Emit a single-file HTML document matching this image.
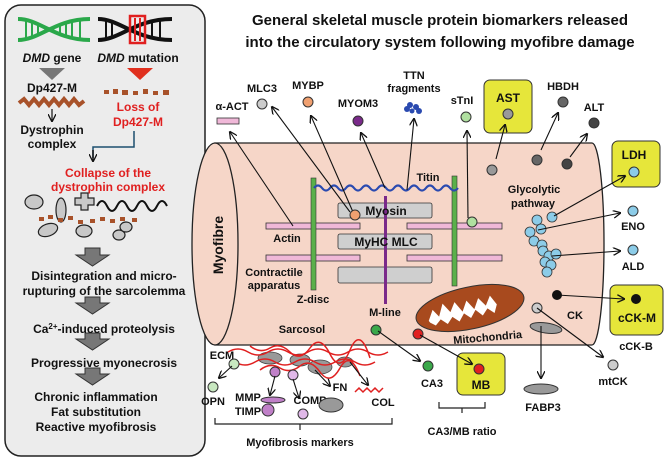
<!DOCTYPE html>
<html><head><meta charset="utf-8"><style>
html,body{margin:0;padding:0;background:#fff}
svg{display:block}
text{font-family:"Liberation Sans",Arial,sans-serif;font-weight:bold;fill:#111;text-anchor:middle}
</style></head><body>
<svg width="668" height="461" viewBox="0 0 668 461" xmlns="http://www.w3.org/2000/svg">
<defs>
<marker id="a" markerWidth="8" markerHeight="8" refX="7" refY="4" orient="auto" markerUnits="userSpaceOnUse">
<path d="M0,0 L8,4 L0,8" fill="none" stroke="#111" stroke-width="1.3"/></marker>
</defs>

<!-- LEFT PANEL -->
<rect x="5" y="5" width="200" height="451" rx="16" fill="#ececec" stroke="#222" stroke-width="1.5"/>
<!-- green DNA -->
<g stroke="#2aa84a" stroke-width="4" fill="none">
<path d="M18,19 C40,19 55,40 90,40"/><path d="M18,40 C40,40 55,19 90,19"/>
</g>
<g stroke="#2aa84a" stroke-width="2"><path d="M26,21v17M32,22v15M38,24v11M60,24v11M66,22v15M72,21v17M80,20v19"/></g>
<!-- black DNA -->
<g stroke="#111" stroke-width="4" fill="none">
<path d="M98,19 C120,19 135,40 172,40"/><path d="M98,40 C120,40 135,19 172,19"/>
</g>
<g stroke="#111" stroke-width="2"><path d="M106,21v17M112,22v15M152,22v15M160,21v17"/></g>
<rect x="130" y="16" width="15" height="27" fill="none" stroke="#e02020" stroke-width="2.5"/>
<g stroke="#e02020" stroke-width="2"><path d="M135,18v23M140,18v23"/></g>
<text x="52" y="62" font-size="12"><tspan font-style="italic">DMD</tspan> gene</text>
<text x="138" y="62" font-size="12"><tspan font-style="italic">DMD</tspan> mutation</text>
<path d="M39,68 L65,68 L52,80Z" fill="#777"/>
<path d="M127,68 L153,68 L140,80Z" fill="#e0301e"/>
<text x="52" y="92" font-size="12">Dp427-M</text>
<path d="M19,103 l5,-4 5,6 5,-6 5,6 5,-6 5,6 5,-6 5,6 5,-6 5,6 5,-6 5,6 5,-4" fill="none" stroke="#a8522a" stroke-width="4"/>
<line x1="52" y1="109" x2="52" y2="121" stroke="#111" stroke-width="1.2" marker-end="url(#a)"/>
<text x="52" y="134" font-size="12">Dystrophin</text>
<text x="52" y="148" font-size="12">complex</text>
<g fill="#a8522a"><rect x="104" y="90" width="5" height="4"/><rect x="113" y="89" width="5" height="5"/><rect x="122" y="90" width="6" height="5"/><rect x="133" y="91" width="5" height="4"/><rect x="143" y="89" width="5" height="5"/><rect x="153" y="91" width="5" height="4"/><rect x="163" y="90" width="6" height="5"/></g>
<text x="138" y="111" font-size="12" style="fill:#e02020">Loss of</text>
<text x="138" y="126" font-size="12" style="fill:#e02020">Dp427-M</text>
<path d="M134,131 V147 H93 V158" fill="none" stroke="#1d4f6e" stroke-width="1.5"/>
<path d="M93,150 V161" stroke="#111" stroke-width="1.5" marker-end="url(#a)"/>
<text x="108" y="177" font-size="12" style="fill:#e02020">Collapse of the</text>
<text x="108" y="191" font-size="12" style="fill:#e02020">dystrophin complex</text>
<g fill="#c8c8c8" stroke="#222" stroke-width="1.2">
<ellipse cx="34" cy="202" rx="9" ry="7"/>
<ellipse cx="61" cy="210" rx="5" ry="12"/>
<path d="M75,198 h6 v-5 h7 v5 h6 v7 h-6 v5 h-7 v-5 h-6z"/>
<ellipse cx="48" cy="230" rx="10" ry="6" transform="rotate(-20 48 230)"/>
<ellipse cx="84" cy="231" rx="8" ry="6"/>
<ellipse cx="119" cy="235" rx="6" ry="5"/>
<ellipse cx="126" cy="227" rx="6" ry="5"/>
</g>
<g fill="#a8522a"><rect x="39" y="217" width="5" height="4"/><rect x="48" y="215" width="5" height="4"/><rect x="58" y="218" width="5" height="4"/><rect x="68" y="216" width="5" height="4"/><rect x="78" y="220" width="5" height="4"/><rect x="90" y="219" width="5" height="4"/><rect x="100" y="217" width="5" height="4"/><rect x="110" y="219" width="5" height="4"/><rect x="120" y="217" width="5" height="4"/><rect x="132" y="218" width="5" height="4"/></g>
<path d="M97,206 q5,-10 10,0 t10,0 t10,0 t10,0 t10,0 t10,0 t10,0" fill="none" stroke="#111" stroke-width="2"/>
<g fill="#777" stroke="#333" stroke-width="1">
<path d="M85,248 h15 v7 h9 l-16.5,11 -16.5,-11 h9z"/>
<path d="M85,297 h15 v6 h9 l-16.5,11 -16.5,-11 h9z"/>
<path d="M85,333 h15 v6 h9 l-16.5,11 -16.5,-11 h9z"/>
<path d="M85,368 h15 v6 h9 l-16.5,11 -16.5,-11 h9z"/>
</g>
<text x="104" y="280" font-size="12">Disintegration and micro-</text>
<text x="104" y="295" font-size="12">rupturing of the sarcolemma</text>
<text x="104" y="333" font-size="12">Ca<tspan font-size="8" dy="-4">2+</tspan><tspan dy="4">-induced proteolysis</tspan></text>
<text x="104" y="367" font-size="12">Progressive myonecrosis</text>
<text x="96" y="401" font-size="12">Chronic inflammation</text>
<text x="96" y="416" font-size="12">Fat substitution</text>
<text x="96" y="431" font-size="12">Reactive myofibrosis</text>

<!-- TITLE -->
<text x="440" y="25" font-size="15">General skeletal muscle protein biomarkers released</text>
<text x="440" y="47" font-size="15">into the circulatory system following myofibre damage</text>

<!-- CYLINDER -->
<path d="M215,143 H592 A12,101 0 0 1 592,345 H215Z" fill="#f6d6c8" stroke="#222" stroke-width="1.3"/>
<ellipse cx="215" cy="244" rx="23" ry="101" fill="#f6d6c8" stroke="#222" stroke-width="1.3"/>
<text x="0" y="0" font-size="14" transform="translate(223,245) rotate(-90)">Myofibre</text>

<!-- actin -->
<g fill="#f0b8d8" stroke="#333" stroke-width="0.8">
<rect x="266" y="223" width="94" height="6"/><rect x="266" y="255" width="94" height="6"/>
<rect x="407" y="223" width="95" height="6"/><rect x="407" y="255" width="95" height="6"/>
</g>
<!-- myosin -->
<g fill="#cfcfcf" stroke="#333" stroke-width="0.8">
<rect x="338" y="203" width="94" height="15" rx="2"/>
<rect x="338" y="234" width="94" height="15" rx="2"/>
<rect x="338" y="267" width="94" height="16" rx="2"/>
</g>
<!-- z disc, m line -->
<rect x="311" y="178" width="5" height="112" fill="#5ab04a" stroke="#333" stroke-width="0.6"/>
<rect x="452" y="176" width="5" height="110" fill="#5ab04a" stroke="#333" stroke-width="0.6"/>
<rect x="384" y="196" width="3" height="108" fill="#7a2a8a"/>
<path d="M314,188 q4,-5 8,0 t8,0 t8,0 t8,0 t8,0 t8,0 t8,0 t8,0 t8,0 t8,0 t8,0 t8,0 t8,0 t8,0 t8,0 t8,0 t8,0 t8,0" fill="none" stroke="#2a4ab0" stroke-width="2.2"/>
<text x="386" y="215" font-size="12">Myosin</text>
<text x="386" y="246" font-size="12">MyHC MLC</text>
<text x="428" y="181" font-size="11">Titin</text>
<text x="287" y="242" font-size="11">Actin</text>
<text x="274" y="276" font-size="11">Contractile</text>
<text x="274" y="289" font-size="11">apparatus</text>
<text x="313" y="303" font-size="11">Z-disc</text>
<text x="385" y="316" font-size="11">M-line</text>
<text x="302" y="333" font-size="11">Sarcosol</text>

<!-- top markers -->
<text x="232" y="110" font-size="11">α-ACT</text>
<rect x="217" y="118" width="22" height="6" fill="#f0b8d8" stroke="#333" stroke-width="0.8"/>
<text x="262" y="92" font-size="11">MLC3</text>
<circle cx="262" cy="104" r="5" fill="#ccc" stroke="#333"/>
<text x="308" y="89" font-size="11">MYBP</text>
<circle cx="308" cy="102" r="5" fill="#f0a070" stroke="#333"/>
<text x="358" y="107" font-size="11">MYOM3</text>
<circle cx="358" cy="121" r="5" fill="#7a2a8a" stroke="#333"/>
<text x="414" y="79" font-size="11">TTN</text>
<text x="414" y="92" font-size="11">fragments</text>
<g fill="#2a4ab0"><circle cx="407" cy="109" r="3"/><circle cx="410" cy="105" r="3"/><circle cx="416" cy="107" r="3"/><circle cx="419" cy="111" r="3"/><circle cx="412" cy="111" r="2.5"/></g>
<text x="462" y="104" font-size="11">sTnI</text>
<circle cx="466" cy="117" r="5" fill="#b0e0a0" stroke="#333"/>
<rect x="484" y="80" width="48" height="53" rx="6" fill="#e6e63a" stroke="#333"/>
<text x="508" y="102" font-size="12">AST</text>
<circle cx="508" cy="114" r="5" fill="#999" stroke="#333"/>
<text x="563" y="90" font-size="11">HBDH</text>
<circle cx="563" cy="102" r="5" fill="#666" stroke="#333"/>
<text x="594" y="111" font-size="11">ALT</text>
<circle cx="594" cy="123" r="5" fill="#444" stroke="#333"/>
<circle cx="492" cy="170" r="5" fill="#999" stroke="#333"/>
<circle cx="537" cy="160" r="5" fill="#666" stroke="#333"/>
<circle cx="567" cy="164" r="5" fill="#444" stroke="#333"/>

<!-- right side -->
<rect x="612" y="141" width="48" height="46" rx="6" fill="#e6e63a" stroke="#333"/>
<text x="634" y="159" font-size="12">LDH</text>
<circle cx="634" cy="172" r="5" fill="#8ccce8" stroke="#333"/>
<text x="534" y="193" font-size="11">Glycolytic</text>
<text x="533" y="207" font-size="11">pathway</text>
<g fill="#8ccce8" stroke="#333" stroke-width="0.8">
<circle cx="552" cy="217" r="5"/><circle cx="537" cy="220" r="5"/><circle cx="541" cy="229" r="5"/><circle cx="530" cy="232" r="5"/><circle cx="534" cy="241" r="5"/><circle cx="542" cy="245" r="5"/><circle cx="543" cy="251" r="5"/><circle cx="549" cy="256" r="5"/><circle cx="545" cy="262" r="5"/><circle cx="551" cy="265" r="5"/><circle cx="547" cy="272" r="5"/><circle cx="556" cy="254" r="5"/>
</g>
<circle cx="633" cy="211" r="5" fill="#8ccce8" stroke="#333"/>
<text x="633" y="230" font-size="11">ENO</text>
<circle cx="633" cy="250" r="5" fill="#8ccce8" stroke="#333"/>
<text x="633" y="270" font-size="11">ALD</text>
<circle cx="557" cy="295" r="5" fill="#111"/>
<text x="575" y="319" font-size="11">CK</text>
<rect x="610" y="285" width="53" height="50" rx="6" fill="#e6e63a" stroke="#333"/>
<circle cx="636" cy="299" r="5" fill="#111"/>
<text x="637" y="322" font-size="12">cCK-M</text>
<text x="636" y="350" font-size="11">cCK-B</text>

<!-- mitochondria -->
<g transform="rotate(-12 470 308)">
<ellipse cx="470" cy="308" rx="55" ry="21" fill="#a84a1e" stroke="#333"/>
<path d="M427,312 l6,-10 5,8 6,-12 6,10 6,-9 6,11 6,-10 6,10 6,-10 6,9 6,-9 5,10 -4,8 -6,-6 -6,6 -6,-7 -6,7 -6,-6 -6,7 -6,-6 -6,6 -6,-6 -6,5 -5,-4z" fill="#fff"/>
</g>
<text x="488" y="341" font-size="11" transform="rotate(-5 488 341)">Mitochondria</text>
<circle cx="537" cy="308" r="5" fill="#ccc" stroke="#333"/>
<ellipse cx="546" cy="328" rx="16" ry="5" fill="#999" stroke="#333" transform="rotate(8 546 328)"/>
<ellipse cx="541" cy="389" rx="17" ry="5" fill="#999" stroke="#333"/>
<text x="543" y="411" font-size="11">FABP3</text>
<circle cx="613" cy="365" r="5" fill="#ccc" stroke="#333"/>
<text x="613" y="385" font-size="11">mtCK</text>

<!-- CA3 / MB -->
<circle cx="376" cy="330" r="5" fill="#3aa84a" stroke="#333"/>
<circle cx="418" cy="334" r="5" fill="#e02020" stroke="#333"/>
<circle cx="428" cy="366" r="5" fill="#3aa84a" stroke="#333"/>
<text x="432" y="387" font-size="11">CA3</text>
<rect x="457" y="353" width="48" height="42" rx="6" fill="#e6e63a" stroke="#333"/>
<circle cx="479" cy="369" r="5" fill="#e02020" stroke="#333"/>
<text x="481" y="389" font-size="12">MB</text>
<path d="M439,402 v6 h46 v-6 M462,408 v5" fill="none" stroke="#222" stroke-width="1.2"/>
<text x="462" y="435" font-size="11">CA3/MB ratio</text>

<!-- ECM -->
<text x="222" y="359" font-size="11">ECM</text>
<g fill="#999" stroke="#444" stroke-width="0.8">
<ellipse cx="270" cy="358" rx="12" ry="6"/><ellipse cx="300" cy="360" rx="10" ry="6"/><ellipse cx="320" cy="367" rx="12" ry="7"/><ellipse cx="345" cy="362" rx="8" ry="5"/>
</g>
<g fill="none" stroke="#e02020" stroke-width="1.5">
<path d="M228,352 q10,-6 20,0 t20,0 t20,0 t20,0 t20,0 t20,0 t20,0 t20,0"/>
<path d="M235,362 q10,6 20,0 t20,0 t20,0 t20,0 t20,0 t20,0 t20,0"/>
<path d="M250,346 q10,8 20,2 t20,4 t20,-4 t20,6 t20,-4 t20,8"/>
<path d="M260,370 q10,-8 20,-2 t20,-2 t20,6 t20,-4 t20,8"/>
</g>
<circle cx="234" cy="364" r="5" fill="#c8e8c0" stroke="#333"/>
<circle cx="275" cy="372" r="5" fill="#c080c8" stroke="#333"/>
<circle cx="293" cy="375" r="5" fill="#e0b8e8" stroke="#333"/>
<circle cx="213" cy="387" r="5" fill="#c8e8c0" stroke="#333"/>
<text x="213" y="405" font-size="11">OPN</text>
<text x="248" y="401" font-size="11">MMP</text>
<text x="248" y="415" font-size="11">TIMP</text>
<ellipse cx="273" cy="400" rx="12" ry="3" fill="#c080c8" stroke="#333"/>
<circle cx="268" cy="410" r="6" fill="#c080c8" stroke="#333"/>
<text x="310" y="404" font-size="11">COMP</text>
<circle cx="303" cy="414" r="5" fill="#e0b8e8" stroke="#333"/>
<text x="340" y="391" font-size="11">FN</text>
<ellipse cx="331" cy="405" rx="12" ry="7" fill="#999" stroke="#333"/>
<path d="M355,392 l4,-4 4,4 4,-4 4,4 4,-4 4,4 4,-4" fill="none" stroke="#e02020" stroke-width="1.5"/>
<text x="383" y="406" font-size="11">COL</text>
<path d="M215,418 v6 h177 v-6 M300,424 v6" fill="none" stroke="#222" stroke-width="1.2"/>
<text x="300" y="446" font-size="11">Myofibrosis markers</text>

<!-- arrows -->
<g stroke="#111" stroke-width="1.1" marker-end="url(#a)">
<line x1="293" y1="226" x2="230" y2="132"/>
<line x1="350" y1="212" x2="272" y2="107"/>
<line x1="353" y1="212" x2="311" y2="116"/>
<line x1="385" y1="188" x2="361" y2="133"/>
<line x1="407" y1="190" x2="414" y2="119"/>
<line x1="468" y1="218" x2="467" y2="131"/>
<line x1="496" y1="159" x2="505" y2="125"/>
<line x1="541" y1="150" x2="558" y2="113"/>
<line x1="570" y1="157" x2="587" y2="134"/>
<line x1="554" y1="216" x2="625" y2="176"/>
<line x1="538" y1="230" x2="620" y2="213"/>
<line x1="552" y1="256" x2="620" y2="251"/>
<line x1="557" y1="295" x2="624" y2="299"/>
<line x1="537" y1="308" x2="603" y2="357"/>
<line x1="541" y1="326" x2="541" y2="378"/>
<line x1="378" y1="331" x2="420" y2="361"/>
<line x1="420" y1="335" x2="472" y2="364"/>
<line x1="232" y1="366" x2="219" y2="378"/>
<line x1="275" y1="376" x2="270" y2="395"/>
<line x1="293" y1="379" x2="299" y2="398"/>
<line x1="315" y1="370" x2="330" y2="386"/>
<line x1="350" y1="362" x2="368" y2="385"/>
</g>
<g fill="#f0a070" stroke="#333"><circle cx="355" cy="215" r="5"/></g>
<circle cx="472" cy="222" r="5" fill="#b0e0a0" stroke="#333"/>
</svg>
</body></html>
